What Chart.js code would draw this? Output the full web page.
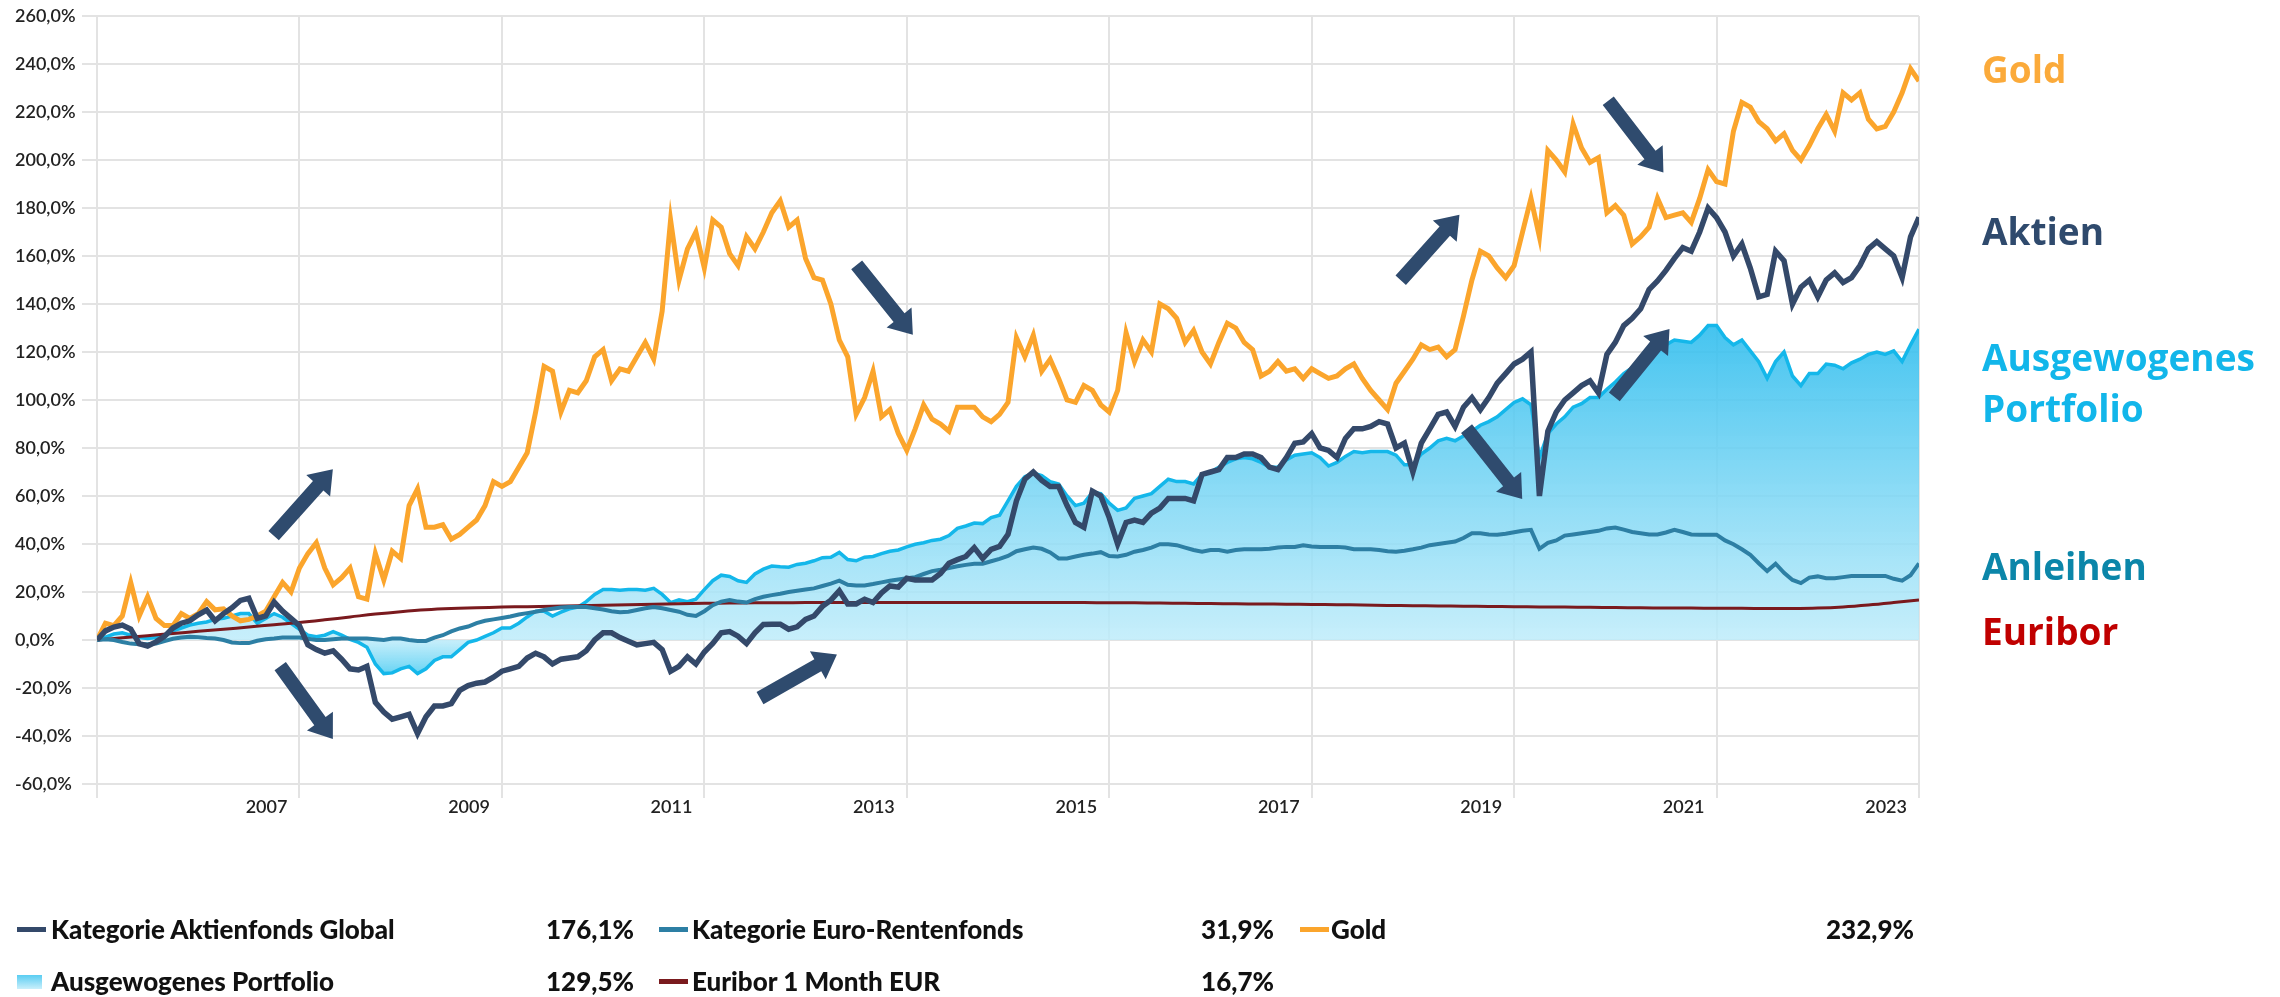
<!DOCTYPE html>
<html>
<head>
<meta charset="utf-8">
<script src="https://cdn.jsdelivr.net/npm/chart.js@4.4.1/dist/chart.umd.min.js"></script>
<style>
    body { margin: 0; background: #fff; width: 2280px; height: 997px; overflow: hidden; position: relative; font-family: Lato, sans-serif; }
    #chart { position: absolute; left: 0; top: 0; }
    .side { position: absolute; left: 1982px; font-family: 'Open Sans', sans-serif; font-weight: 700; font-size: 37px; line-height: 51px; white-space: nowrap; }
    .leg { position: absolute; height: 30px; line-height: 30px; font-weight: 900; font-size: 26px; color: #111; white-space: nowrap; }
    .mark { position: absolute; }
</style>
</head>
<body>
<canvas id="chart" width="2280" height="997"></canvas>
<script>
// monthly values from Jan 2005 to Jan 2023 (in %)
const startYear = 2005;

const aktien = [
    0, 3.8, 5.4, 6.2, 4.5, -1.5, -2.5, -0.8, 1.5, 5, 7, 8,
    10.5, 12.5, 8, 11, 13.4, 16.5, 17.4, 9, 10, 15.8, 12, 9,
    6, -2, -4, -5.5, -4.5, -8, -12, -12.5, -11, -26, -30, -33,
    -32, -31, -39, -32, -27.5, -27.5, -26.5, -21, -19, -18, -17.5, -15.5,
    -13, -12, -11, -7.5, -5.5, -7, -10, -8, -7.5, -7, -4.5, 0,
    3, 3, 1, -0.5, -2, -1.5, -1, -4, -13, -11, -7, -10,
    -5, -1.4, 3, 3.5, 1.6, -1.5, 3, 6.5, 6.6, 6.6, 4.5, 5.5,
    8.6, 10, 14, 16.6, 20.5, 15, 15, 17, 15.6, 19.6, 22.5, 22,
    25.7, 25, 25, 25, 27.7, 32, 33.5, 34.8, 38.5, 34, 37.8, 39,
    44, 58, 67, 70, 66.5, 64, 64, 56, 49, 47, 62, 60,
    51, 40, 49, 50, 49, 52.9, 55, 59, 59, 59, 58, 69,
    70, 71, 76, 76, 77.5, 77.5, 76, 72, 71, 76, 82, 82.5,
    86, 80, 79, 76, 84, 88, 88, 89, 91, 90, 80, 82,
    70, 82, 88, 94, 95, 89, 97, 101, 96, 101, 107, 111,
    115, 117, 120, 60, 87, 95, 100, 103, 106, 108, 103, 119,
    124, 131, 134, 138, 146, 149.6, 154, 159, 163.5, 162, 170, 180,
    176, 170, 160, 165, 155, 143, 144, 162, 158, 140, 147, 150,
    143, 150, 153, 149, 151, 156, 163, 166, 163, 160, 151, 168,
    176.1
];

const renten = [
    0, 0.3, 0, -0.8, -1.5, -1.8, -1.8, -1.5, -0.5, 0.5, 1, 1.4,
    1.2, 0.8, 0.6, 0, -1, -1.3, -1.3, -0.3, 0.3, 0.6, 1, 1,
    1, 0.5, 0, 0, 0.3, 0.6, 0.6, 0.6, 0.6, 0.3, 0, 0.6,
    0.6, 0, -0.4, -0.4, 1, 2, 3.6, 4.8, 5.6, 7, 8, 8.6,
    9.2, 9.8, 10.6, 11.2, 11.8, 12.5, 13, 13.5, 13.7, 13.7, 13.7, 13.2,
    12.7, 12, 11.6, 11.8, 12.5, 13.2, 13.7, 13.2, 12.5, 11.8, 10.5, 10,
    12, 14.5, 16, 16.7, 16, 15.6, 17, 18, 18.7, 19.3, 20, 20.5,
    21, 21.5, 22.5, 23.5, 24.7, 23, 22.7, 22.7, 23.3, 24, 24.7, 25.2,
    25.7, 26.2, 27.5, 28.7, 29.3, 30, 30.7, 31.3, 31.8, 31.8, 32.8, 33.8,
    35, 37, 37.8, 38.5, 38, 36.5, 34, 34, 34.8, 35.5, 36, 36.6,
    35, 34.8, 35.5, 36.8, 37.5, 38.5, 39.9, 39.9, 39.5, 38.5, 37.5, 36.8,
    37.5, 37.5, 36.8, 37.5, 37.8, 37.8, 37.8, 38, 38.5, 38.8, 38.8, 39.5,
    39, 38.8, 38.8, 38.8, 38.5, 37.8, 37.8, 37.8, 37.5, 37, 36.8, 37.2,
    37.8, 38.5, 39.5, 40, 40.5, 41, 42.5, 44.5, 44.5, 44, 43.9, 44.3,
    44.9, 45.5, 45.9, 38, 40.5, 41.5, 43.5, 44, 44.5, 45, 45.5, 46.5,
    46.9, 46, 45, 44.5, 44, 44, 44.8, 45.9, 45, 44, 43.9, 43.9,
    43.9, 41.5, 39.9, 37.8, 35.5, 32, 28.7, 31.8, 28, 25, 23.7, 26,
    26.5, 25.7, 25.7, 26.2, 26.7, 26.7, 26.7, 26.7, 26.7, 25.5, 24.7, 27,
    31.9
];

const gold = [
    0, 7, 6, 10, 24, 10, 18, 9, 6, 6, 11, 9,
    11, 16, 12.6, 13, 10, 8, 8.6, 10, 12, 18, 24, 20,
    30, 36, 40.5, 30, 23, 26, 30, 18, 17, 36, 25, 37,
    34, 56, 63, 47, 47, 48, 42, 44, 47, 50, 56, 66,
    64, 66, 72, 78, 95, 114, 112, 95, 104, 103, 108, 118,
    121, 108, 113, 112, 118, 124, 117, 137, 175, 150, 163, 170,
    155, 175, 172, 161, 156, 168, 163, 170, 178, 183, 172, 175,
    159, 151, 150, 140, 125, 118, 94, 101, 112, 93, 96, 86,
    79, 88, 98, 92, 90, 87, 97, 97, 97, 93, 91, 94,
    99, 126, 118, 127, 112, 117, 109, 100, 99, 106, 104, 98,
    95, 104, 128, 116, 125, 120, 140, 138, 134, 124, 129, 120,
    115, 124, 132, 130, 124, 121, 110, 112, 116, 112, 113, 109,
    113, 111, 109, 110, 113, 115, 109, 104, 100, 96, 107, 112,
    117, 123, 121, 122, 118, 121, 135, 150, 162, 160, 155, 151,
    156, 170, 184, 168, 204, 200, 195, 215, 205, 199, 201, 178,
    181, 177, 165, 168, 172, 184, 176, 177, 178, 174, 184, 196,
    191, 190, 212, 224, 222, 216, 213, 208, 211, 204, 200, 206,
    213, 219, 212, 228, 225, 228, 217, 213, 214, 220, 228, 238,
    232.9
];

const portfolio = [
    0, 1.2, 2.5, 3, 2, 1, 0.6, 1, 2, 3.8, 5, 6.2,
    7, 7.5, 8.6, 9, 10, 11, 11, 7, 9, 11, 9.5, 7,
    4.5, 2, 1.4, 2, 3.5, 2, 0.3, -1, -3, -10, -14, -13.7,
    -12, -11, -14, -12, -8.5, -7, -7, -4, -1, 0, 1.5, 3,
    5, 5, 7, 9.6, 12, 12, 10, 11.6, 13, 13.7, 16, 19,
    21, 21, 20.7, 21, 21, 20.7, 21.5, 19, 15.6, 16.7, 16, 17,
    21, 24.7, 27, 26.5, 24.7, 24, 27.5, 29.5, 30.8, 30.5, 30.3, 31.5,
    32, 33, 34.3, 34.5, 36.5, 33.5, 33, 34.5, 34.8, 36, 37, 37.5,
    38.8, 39.9, 40.5, 41.5, 42, 43.5, 46.5, 47.5, 48.7, 48.5, 51, 52,
    58, 64, 68, 69.5, 68.5, 66, 65, 60, 56, 57, 61.5, 61,
    57, 54, 55, 59, 60, 61, 64, 67, 66, 66, 65, 69,
    70, 72, 74, 75.5, 76, 75.5, 74, 72, 72, 75, 77, 77.5,
    78, 76, 72.5, 74, 76.5, 78.5, 78, 78.5, 78.5, 78.5, 77, 73,
    73, 77.5, 80, 83, 84, 83, 85, 87, 89.5, 91, 93, 96,
    99, 100.5, 98, 76, 86, 90, 93, 97, 98.5, 101, 101, 104.5,
    107.5, 111, 113.5, 116, 119.5, 122, 123, 125, 124.5, 124, 127, 131,
    131, 126, 123, 125, 120.5, 116, 109, 116, 120, 110, 106, 111,
    111, 115, 114.5, 113, 115.5, 117, 119, 120, 119, 120.5, 116, 123,
    129.5
];

// Euribor read every 3 months
const euriborStep = 3;
const euribor = [
    0, 0.9, 1.8, 2.7, 3.6, 4.5, 5.4, 6.4, 7.3, 8.4, 9.6, 10.8,
    11.8, 12.6, 13.1, 13.4, 13.7, 13.9, 14.1, 14.3, 14.5, 14.7, 14.9, 15.1,
    15.3, 15.4, 15.5, 15.5, 15.6, 15.6, 15.6, 15.6, 15.6, 15.6, 15.6, 15.6,
    15.6, 15.6, 15.6, 15.6, 15.5, 15.5, 15.4, 15.3, 15.2, 15.1, 15.0, 14.9,
    14.8, 14.7, 14.6, 14.4, 14.3, 14.2, 14.1, 14.0, 13.9, 13.8, 13.7, 13.6,
    13.5, 13.4, 13.3, 13.3, 13.2, 13.2, 13.1, 13.1, 13.3, 13.8, 14.6, 15.6,
    16.7
];

const xTickYears = [2005, 2007, 2009, 2011, 2013, 2015, 2017, 2019, 2021, 2023];
const yMin = -60, yMax = 260, yStep = 20;

const seriesNames = ['Kategorie Aktienfonds Global', 'Kategorie Euro-Rentenfonds', 'Gold', 'Ausgewogenes Portfolio', 'Euribor 1 Month EUR'];
const seriesColors = ['#34496a', '#2d7fa4', '#fba52c', '#14b7ea', '#7a1a1e'];

const sideLabels = ['Gold', 'Aktien', 'Ausgewogenes<br>Portfolio', 'Anleihen', 'Euribor'];
const sideColors = ['#fbaa3a', '#2f4a6d', '#12b6ea', '#0b86a9', '#c00000'];
const sideTops = [43, 205, 331, 540, 605];

// arrows as [year, value] from -> to
const arrowFrom = [[2006.745, 43.5], [2006.81, -10.9], [2011.55, -24.2], [2012.505, 156.3], [2017.88, 149.9], [2019.93, 224.7], [2018.53, 88.1], [2019.99, 101.3]];
const arrowTo = [[2007.33, 71.1], [2007.33, -41.2], [2012.31, -6.0], [2013.06, 127.2], [2018.46, 177.2], [2020.475, 194.8], [2019.08, 58.7], [2020.535, 129.6]];

function toPoints(values, step) {
    return values.map((v, i) => ({ x: startYear + i * step / 12, y: v }));
}

function fmtPct(v) {
    return v.toFixed(1).replace('.', ',') + '%';
}

const arrowPlugin = {
    id: 'arrows',
    afterDatasetsDraw(chart) {
        const { ctx, scales } = chart;
        ctx.save();
        ctx.fillStyle = '#2f4b6e';
        arrowFrom.forEach((from, i) => {
            const to = arrowTo[i];
            const x1 = scales.x.getPixelForValue(from[0]), y1 = scales.y.getPixelForValue(from[1]);
            const x2 = scales.x.getPixelForValue(to[0]), y2 = scales.y.getPixelForValue(to[1]);
            const len = Math.hypot(x2 - x1, y2 - y1);
            const ux = (x2 - x1) / len, uy = (y2 - y1) / len;
            const nx = -uy, ny = ux;
            const w = 7, hw = 16, hl = 22;
            const bx = x2 - ux * hl, by = y2 - uy * hl;
            ctx.beginPath();
            ctx.moveTo(x1 + nx * w, y1 + ny * w);
            ctx.lineTo(bx + nx * w, by + ny * w);
            ctx.lineTo(bx + nx * hw, by + ny * hw);
            ctx.lineTo(x2, y2);
            ctx.lineTo(bx - nx * hw, by - ny * hw);
            ctx.lineTo(bx - nx * w, by - ny * w);
            ctx.lineTo(x1 - nx * w, y1 - ny * w);
            ctx.closePath();
            ctx.fill();
        });
        ctx.restore();
    }
};

function portfolioFill(context) {
    const chart = context.chart;
    const { ctx, chartArea, scales } = chart;
    if (!chartArea) return 'rgba(80,200,240,0.6)';
    const top = scales.y.getPixelForValue(130);
    const bottom = scales.y.getPixelForValue(-15);
    const zero = scales.y.getPixelForValue(0);
    const g = ctx.createLinearGradient(0, top, 0, bottom);
    g.addColorStop(0, 'rgba(50,190,238,0.9)');
    g.addColorStop((zero - top) / (bottom - top), 'rgba(190,236,250,0.85)');
    g.addColorStop(1, 'rgba(80,205,242,0.9)');
    return g;
}

const gridColor = '#e3e3e3';

new Chart(document.getElementById('chart'), {
    type: 'line',
    data: {
        datasets: [
            { label: seriesNames[0], data: toPoints(aktien, 1), borderColor: seriesColors[0], borderWidth: 5.5, pointRadius: 0, tension: 0, fill: false },
            { label: seriesNames[2], data: toPoints(gold, 1), borderColor: seriesColors[2], borderWidth: 5, pointRadius: 0, tension: 0, fill: false },
            { label: seriesNames[1], data: toPoints(renten, 1), borderColor: seriesColors[1], borderWidth: 4, pointRadius: 0, tension: 0, fill: false },
            { label: seriesNames[4], data: toPoints(euribor, euriborStep), borderColor: seriesColors[4], borderWidth: 3, pointRadius: 0, tension: 0.4, fill: false },
            { label: seriesNames[3], data: toPoints(portfolio, 1), borderColor: seriesColors[3], borderWidth: 3.5, pointRadius: 0, tension: 0, fill: 'origin', backgroundColor: portfolioFill }
        ]
    },
    options: {
        responsive: false,
        animation: false,
        devicePixelRatio: 1,
        layout: { padding: { left: 15, top: 16, right: 361, bottom: 173 } },
        plugins: { legend: { display: false }, tooltip: { enabled: false } },
        scales: {
            x: {
                type: 'linear',
                min: 2005,
                max: 2023,
                afterBuildTicks: scale => { scale.ticks = xTickYears.map(v => ({ value: v })); },
                afterFit: scale => { scale.height = 40; },
                grid: { color: gridColor, lineWidth: 2, tickLength: 14 },
                border: { color: gridColor, width: 2 },
                ticks: {
                    align: 'end',
                    labelOffset: -12,
                    padding: -2,
                    maxRotation: 0,
                    color: '#222',
                    font: { family: 'Lato', size: 18, weight: '600' },
                    callback: v => (v === startYear ? '' : String(v))
                }
            },
            y: {
                min: yMin,
                max: yMax,
                afterFit: scale => { scale.width = 82; },
                grid: { color: gridColor, lineWidth: 2, tickLength: 15 },
                border: { color: gridColor, width: 2 },
                ticks: {
                    stepSize: yStep,
                    crossAlign: 'far',
                    color: '#222',
                    font: { family: 'Lato', size: 18, weight: '600' },
                    callback: v => fmtPct(v)
                }
            }
        }
    },
    plugins: [arrowPlugin]
});

// coloured labels on the right
sideLabels.forEach((txt, i) => {
    const d = document.createElement('div');
    d.className = 'side';
    d.style.top = sideTops[i] + 'px';
    d.style.color = sideColors[i];
    d.innerHTML = txt;
    document.body.appendChild(d);
});

// legend with final values
const legendSeries = [aktien, renten, gold, portfolio, euribor];
const legendCols = [{ mark: 17, text: 51, end: 634 }, { mark: 659, text: 692, end: 1274 }, { mark: 1300, text: 1331, end: 1914 }];
const legendRows = [914, 966];
const legendOrder = [[0, 0], [0, 1], [0, 2], [1, 0], [1, 1]];

legendOrder.forEach(([row, col], i) => {
    const c = legendCols[col];
    const top = legendRows[row];
    const values = legendSeries[i];

    const m = document.createElement('div');
    m.className = 'mark';
    if (i === 3) {
        m.style.left = c.mark + 'px';
        m.style.top = (top + 9) + 'px';
        m.style.width = '25px';
        m.style.height = '14px';
        m.style.background = 'linear-gradient(#5acdf2, #c9effb)';
    } else {
        m.style.left = c.mark + 'px';
        m.style.top = (top + 13) + 'px';
        m.style.width = '29px';
        m.style.height = '5px';
        m.style.background = seriesColors[i];
    }
    document.body.appendChild(m);

    const t = document.createElement('div');
    t.className = 'leg';
    t.style.left = c.text + 'px';
    t.style.top = top + 'px';
    t.textContent = seriesNames[i];
    document.body.appendChild(t);

    const v = document.createElement('div');
    v.className = 'leg';
    v.style.right = (2280 - c.end) + 'px';
    v.style.top = top + 'px';
    v.textContent = fmtPct(values[values.length - 1]);
    document.body.appendChild(v);
});
</script>
</body>
</html>
